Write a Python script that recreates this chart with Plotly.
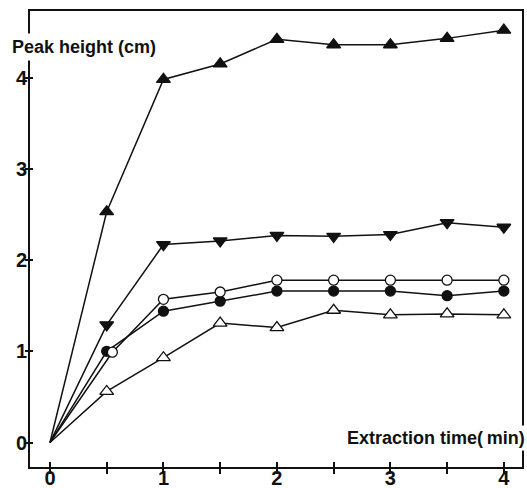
import plotly.graph_objects as go

# Data
x_std = [0, 0.5, 1, 1.5, 2, 2.5, 3, 3.5, 4]
x_open_circle = [0, 0.55, 1, 1.5, 2, 2.5, 3, 3.5, 4]

tri_up_filled = [0, 2.53, 3.98, 4.15, 4.42, 4.36, 4.36, 4.43, 4.52]
tri_down_filled = [0, 1.29, 2.17, 2.21, 2.27, 2.26, 2.28, 2.41, 2.36]
circle_open = [0, 0.99, 1.57, 1.65, 1.78, 1.78, 1.78, 1.78, 1.78]
circle_filled = [0, 1.0, 1.44, 1.55, 1.66, 1.66, 1.66, 1.61, 1.66]
tri_up_open = [0, 0.56, 0.93, 1.31, 1.26, 1.45, 1.40, 1.41, 1.40]

x_tickvals = [0, 0.5, 1, 1.5, 2, 2.5, 3, 3.5, 4]
x_ticktext = ["0", "", "1", "", "2", "", "3", "", "4"]
y_tickvals = [0, 1, 2, 3, 4]
y_ticktext = ["0", "1", "2", "3", "4"]

x_label = "Extraction time(\u2009min)"
y_label = "Peak height (cm)"

FONT = "Liberation Sans, Arial, Helvetica, sans-serif"
BLACK = "#111111"

XR = [-0.176, 4.16]
YR = [-0.268, 4.73]

fig = go.Figure()

series = [
    (x_std, tri_down_filled, "triangle-down", BLACK, 12),
    (x_std, tri_up_filled, "triangle-up", BLACK, 12),
    (x_std, tri_up_open, "triangle-up", "white", 12),
    (x_std, circle_filled, "circle", BLACK, 10),
    (x_open_circle, circle_open, "circle", "white", 10),
]
for xs, ys, sym, fill, size in series:
    # no marker drawn at the origin
    sizes = [0 if (xv == 0 and yv == 0) else size for xv, yv in zip(xs, ys)]
    fig.add_trace(go.Scatter(
        x=xs, y=ys, mode="lines+markers",
        line=dict(color=BLACK, width=1.5),
        marker=dict(symbol=sym, size=sizes, color=fill, opacity=1,
                    line=dict(color=BLACK, width=1.3)),
        showlegend=False, cliponaxis=False,
    ))

# invisible trace for the overlay axes (inside ticks)
fig.add_trace(go.Scatter(x=[XR[0]], y=[YR[0]], xaxis="x2", yaxis="y2",
                         mode="markers", marker=dict(opacity=0),
                         showlegend=False, hoverinfo="skip"))

axis_common = dict(showgrid=False, zeroline=False, linecolor=BLACK,
                   linewidth=2, tickcolor=BLACK, tickwidth=1.5,
                   automargin=False)

fig.update_layout(
    width=527, height=488,
    margin=dict(l=30, r=5, t=11, b=21, autoexpand=False),
    paper_bgcolor="white", plot_bgcolor="white",
    font=dict(family=FONT, color=BLACK),
    xaxis=dict(range=XR, tickvals=x_tickvals, ticktext=x_ticktext,
               ticks="outside", ticklen=5, showline=True, mirror=True,
               ticklabelstandoff=-13,
               tickfont=dict(size=20, family=FONT, weight="bold"),
               **axis_common),
    yaxis=dict(range=YR, tickvals=y_tickvals, ticktext=y_ticktext,
               ticks="outside", ticklen=3, showline=True, mirror=True,
               ticklabelstandoff=-6,
               tickfont=dict(size=20, family=FONT, weight="bold"),
               **axis_common),
    xaxis2=dict(range=XR, overlaying="x", tickvals=x_tickvals,
                showticklabels=False, ticks="inside", ticklen=5,
                showline=False, showgrid=False, zeroline=False,
                tickcolor=BLACK, tickwidth=1.5, automargin=False),
    yaxis2=dict(range=YR, overlaying="y", tickvals=y_tickvals,
                showticklabels=False, ticks="inside", ticklen=3,
                showline=False, showgrid=False, zeroline=False,
                tickcolor=BLACK, tickwidth=1.5, automargin=False),
    annotations=[
        dict(text=y_label, xref="paper", yref="paper",
             x=-0.045, y=0.921, xanchor="left", yanchor="middle",
             showarrow=False, bgcolor="white", borderpad=3,
             font=dict(size=18, family=FONT, weight="bold", color=BLACK)),
        dict(text=x_label, xref="paper", yref="paper",
             x=1.012, y=0.063, xanchor="right", yanchor="middle",
             showarrow=False, bgcolor="white", borderpad=2,
             font=dict(size=18, family=FONT, weight="bold", color=BLACK)),
    ],
)

fig.write_html("out.html")
